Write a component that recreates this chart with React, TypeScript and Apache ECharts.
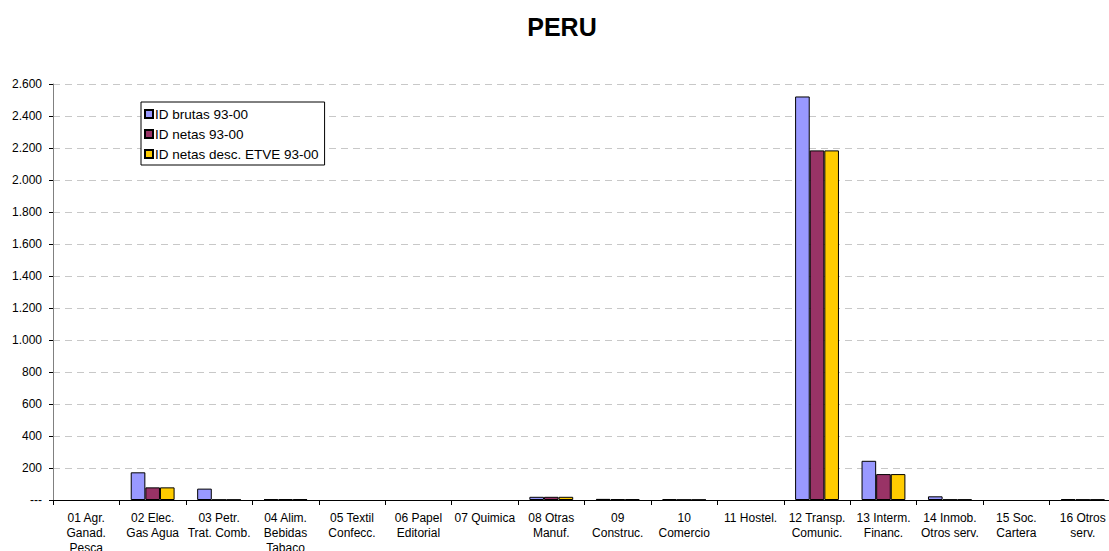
import React, { useEffect, useRef } from "react";
import * as echarts from "echarts";

const categories = [
  "01 Agr.\nGanad.\nPesca",
  "02 Elec.\nGas Agua",
  "03 Petr.\nTrat. Comb.",
  "04 Alim.\nBebidas\nTabaco",
  "05 Textil\nConfecc.",
  "06 Papel\nEditorial",
  "07 Quimica",
  "08 Otras\nManuf.",
  "09\nConstruc.",
  "10\nComercio",
  "11 Hostel.",
  "12 Transp.\nComunic.",
  "13 Interm.\nFinanc.",
  "14 Inmob.\nOtros serv.",
  "15 Soc.\nCartera",
  "16 Otros\nserv.",
];

const idBrutas = [0, 173, 71, 5, 0, 0, 0, 20, 7, 5, 0, 2522, 245, 23, 0, 6];
const idNetas = [0, 79, 2, 5, 0, 0, 0, 20, 5, 2, 0, 2185, 162, 3, 0, 3];
const idNetasEtve = [0, 79, 2, 5, 0, 0, 0, 20, 5, 2, 0, 2185, 162, 3, 0, 3];

const seriesNames = ["ID brutas 93-00", "ID netas 93-00", "ID netas desc. ETVE 93-00"];
const seriesColors = ["#9999FF", "#993366", "#FFCC00"];

const FONT = "Liberation Sans, Arial, sans-serif";

function fmt(v: number): string {
  if (v === 0) return "---";
  return String(v).replace(/\B(?=(\d{3})+(?!\d))/g, ".");
}

export default function App() {
  const ref = useRef<HTMLDivElement>(null);
  useEffect(() => {
    if (!ref.current) return;
    const chart = echarts.init(ref.current, undefined, { renderer: "svg" });
    const datas = [idBrutas, idNetas, idNetasEtve];
    chart.setOption({
      animation: false,
      backgroundColor: "#ffffff",
      graphic: [
        {
          type: "text",
          x: 562,
          y: 27,
          style: {
            text: "PERU",
            align: "center",
            verticalAlign: "middle",
            fontFamily: FONT,
            fontSize: 25,
            fontWeight: "bold",
            fill: "#000",
          },
        },
      ],
      legend: {
        orient: "vertical",
        left: 141,
        top: 102,
        padding: [5, 6, 4, 3],
        itemGap: 6,
        itemWidth: 8,
        itemHeight: 8,
        icon: "rect",
        borderColor: "#000",
        borderWidth: 1,
        backgroundColor: "#fff",
        textStyle: { fontFamily: FONT, fontSize: 13.5, color: "#000", padding: [0, 0, 0, -3] },
        data: seriesNames,
      },
      grid: {
        left: 53,
        width: 1063,
        top: 84,
        height: 416,
        containLabel: false,
        outerBoundsMode: "none",
      },
      xAxis: {
        type: "category",
        data: categories,
        axisLine: { lineStyle: { color: "#000", width: 1 } },
        axisTick: { show: true, alignWithLabel: false, length: 5, lineStyle: { color: "#000" } },
        axisLabel: {
          interval: 0,
          fontFamily: FONT,
          fontSize: 12,
          color: "#000",
          lineHeight: 15,
          margin: 10,
        },
      },
      yAxis: {
        type: "value",
        min: 0,
        max: 2600,
        interval: 200,
        axisLine: { show: true, lineStyle: { color: "#808080", width: 1 } },
        axisTick: { show: true, length: 4, lineStyle: { color: "#000" } },
        axisLabel: {
          fontFamily: FONT,
          fontSize: 12,
          color: "#000",
          margin: 11,
          formatter: (v: number) => fmt(v),
        },
        splitLine: { show: true, lineStyle: { color: "#c8c8c8", type: [7, 5], width: 1 } },
      },
      series: datas.map((d, i) => ({
        name: seriesNames[i],
        type: "bar",
        data: d.map((v) => (v === 0 ? null : v)),
        barGap: "0%",
        barCategoryGap: "34%",
        itemStyle: { color: seriesColors[i], borderColor: "#000", borderWidth: 1 },
      })),
    });
    return () => chart.dispose();
  }, []);
  return <div ref={ref} style={{ width: 1109, height: 551, position: "absolute", left: 0, top: 0 }} />;
}
